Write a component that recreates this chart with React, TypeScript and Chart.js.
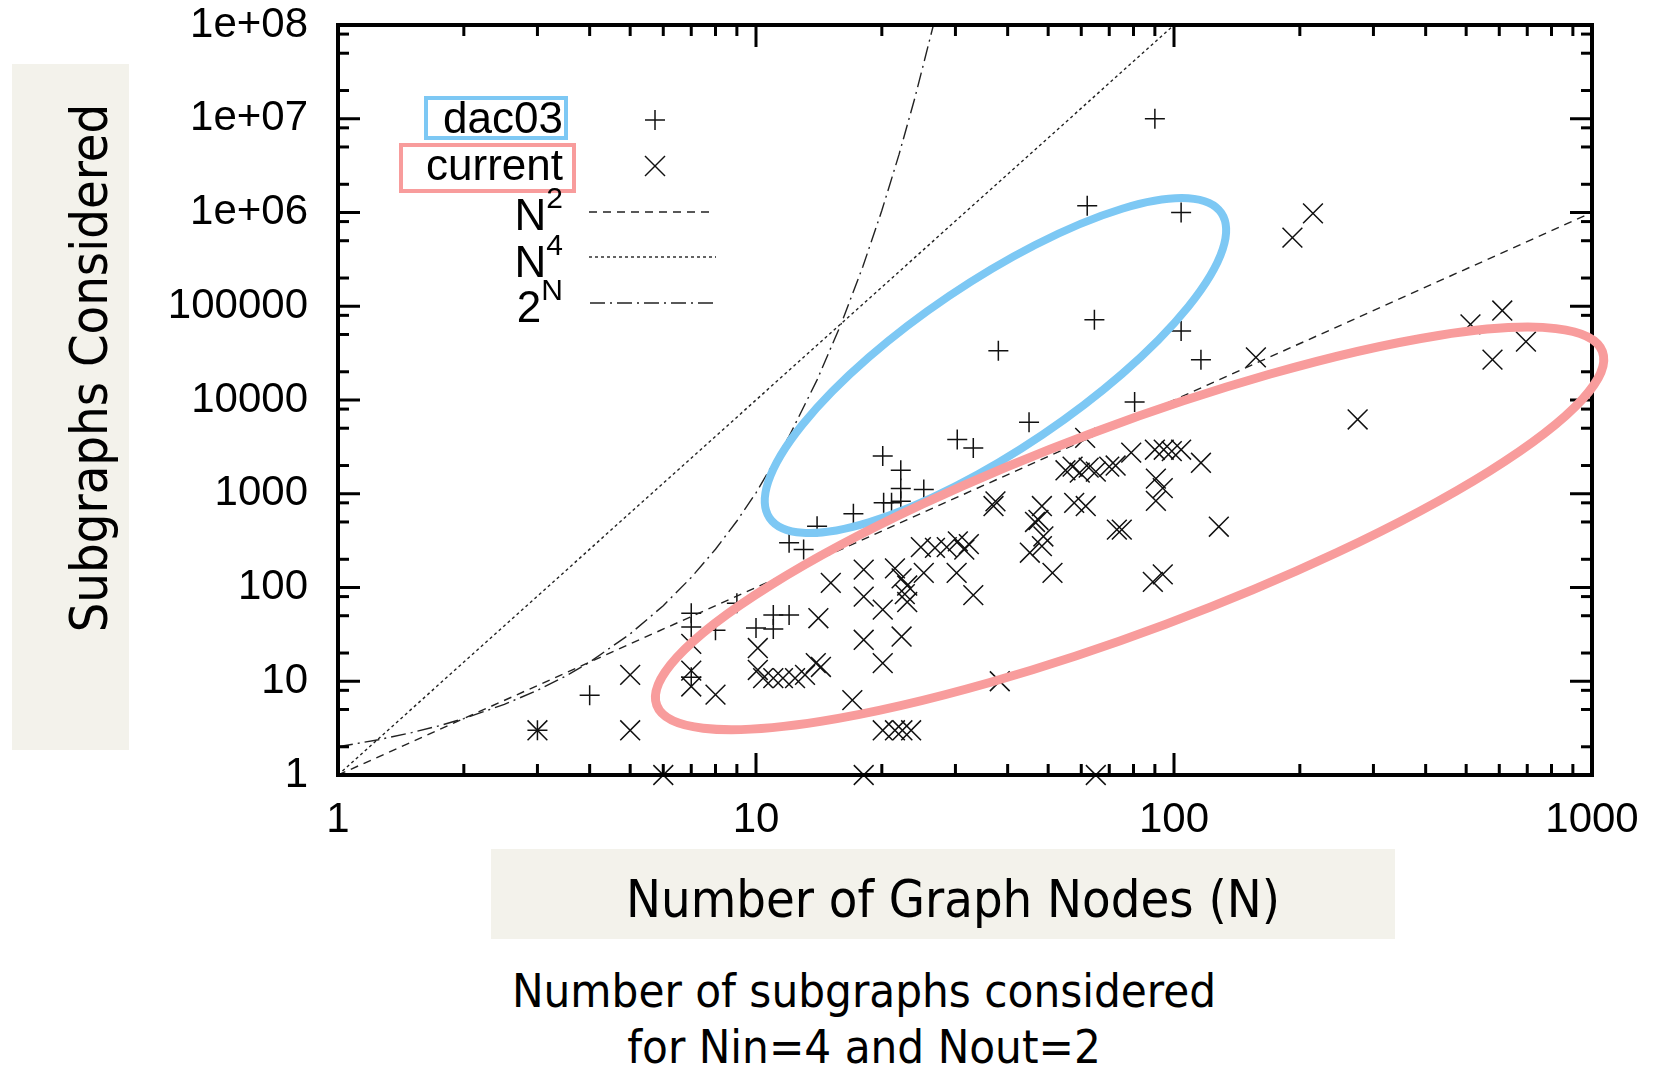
import React, { useEffect, useRef } from "react";
import { Chart, registerables } from "chart.js";

Chart.register(...registerables);

// ---------- axis ticks ----------
const xTickValues = [1, 10, 100, 1000];
const xTickLabels = ["1", "10", "100", "1000"];
const yTickValues = [1, 10, 100, 1000, 1e4, 1e5, 1e6, 1e7, 1e8];
const yTickLabels = ["1", "10", "100", "1000", "10000", "100000", "1e+06", "1e+07", "1e+08"];
const xMinorMultipliers = [2, 3, 4, 5, 6, 7, 8, 9];
const yMinorMultipliers = [2, 5, 8];

// ---------- series: dac03 (+) ----------
const dac03N = [3, 4, 7, 7, 7, 8, 9, 10, 11, 11, 12, 12, 13, 14, 17.1, 20.1, 20.2, 21.1, 22.2, 22.2, 22.2, 25.2, 30.3, 33.1, 45, 38, 62, 90, 104, 64.5, 104, 116, 80.5];
const dac03V = [3, 7.1, 53, 38, 11, 35, 68, 37, 36, 51, 51, 300, 254, 451, 612, 2520, 800, 800, 1780, 1140, 830, 1110, 3800, 3080, 5800, 33500, 1180000, 10000000, 1000000, 72000, 54500, 26800, 9500];

// ---------- series: current (x) ----------
const currentN = [3, 5, 5, 6, 7, 7, 7, 8, 10.1, 10.1, 10.4, 11.0, 11.6, 12.4, 13.1, 13.9, 14.3, 14.1, 15.1, 17, 18.1, 18.1, 18.1, 18.1, 20.1, 20.1, 20.1, 21.5, 22.4, 23.5, 21.5, 22.3, 23, 22.7, 23, 22.3, 24.8, 26.8, 28.6, 30.4, 32.3, 31.5, 25.2, 30.2, 33.1, 37, 37.4, 38.3, 48.3, 47.4, 46.5, 48.7, 48.3, 45.2, 51.2, 57.7, 61.5, 55, 57.2, 59.5, 62.5, 65, 70, 72.5, 61.3, 79, 90, 94.5, 98.8, 104, 116, 90.5, 94, 90.5, 73, 75, 128, 89, 94, 65, 157, 192, 215, 275, 512, 610, 578, 695];
const currentV = [3, 11.7, 3, 1, 25, 13, 8.8, 7.2, 22.6, 13.2, 10.8, 10.8, 10.8, 10.8, 11.7, 15.6, 14.2, 47, 112, 6.3, 155, 80, 27.7, 1, 58, 15.6, 3, 3, 3, 3, 160, 125, 105, 85, 70, 30, 270, 265, 270, 310, 290, 254, 143, 143, 83, 740, 830, 10, 740, 525, 500, 350, 276, 235, 143, 800, 740, 1780, 1950, 1680, 1900, 1720, 1950, 2000, 3950, 2750, 2950, 2950, 2850, 2950, 2140, 1450, 1150, 840, 415, 415, 445, 115, 138, 1, 28500, 540000, 980000, 6200, 64000, 90000, 27000, 42000];

// ---------- reference curves ----------
const squareN = [1, 1000];
const squareV = [1, 1000000];
const quarticN = [1, 100];
const quarticV = [1, 100000000];
const expN = [1, 1.25, 1.5, 1.75, 2, 2.5, 3, 3.5, 4, 5, 6, 7, 8, 9, 10, 12, 14, 16, 18, 20, 22, 24, 26.575];
const expV = [2, 2.38, 2.83, 3.36, 4, 5.66, 8, 11.3, 16, 32, 64, 128, 256, 512, 1024, 4096, 16384, 65536, 262144, 1048576, 4194304, 16777216, 100000000];

// ---------- highlight ellipses: [center, major-axis tip, minor-axis tip] ----------
const blueEllipseN = [37.4, 129.8, 48.4];
const blueEllipseV = [23300, 986000, 4250];
const redEllipseN = [78.3, 1059, 95.4];
const redEllipseV = [427, 32900, 40.4];

const BLUE = "#7dc8f4";
const RED = "#f89c9c";
const BEIGE = "#f3f2eb";
const LINE = "#222";
const TITLE_FONT = '"DejaVu Sans Condensed", "DejaVu Sans", sans-serif';
const LABEL_FONT = '"Liberation Sans", Arial, sans-serif';

const toPts = (xs: number[], ys: number[]) => xs.map((x, i) => ({ x, y: ys[i] }));

function drawEllipse(ctx: CanvasRenderingContext2D, xs: any, ys: any, en: number[], ev: number[], color: string, w: number) {
  const cx = xs.getPixelForValue(en[0]);
  const cy = ys.getPixelForValue(ev[0]);
  const mx = xs.getPixelForValue(en[1]);
  const my = ys.getPixelForValue(ev[1]);
  const nx = xs.getPixelForValue(en[2]);
  const ny = ys.getPixelForValue(ev[2]);
  const a = Math.hypot(mx - cx, my - cy);
  const b = Math.hypot(nx - cx, ny - cy);
  const ang = Math.atan2(my - cy, mx - cx);
  ctx.save();
  ctx.strokeStyle = color;
  ctx.lineWidth = w;
  ctx.beginPath();
  ctx.ellipse(cx, cy, a, b, ang, 0, Math.PI * 2);
  ctx.stroke();
  ctx.restore();
}

const gnuplotFrame = {
  id: "gnuplotFrame",
  afterDatasetsDraw(chart: any) {
    const { ctx, chartArea: a, scales } = chart;
    const xs = scales.x;
    const ys = scales.y;
    ctx.save();
    ctx.strokeStyle = "#000";
    ctx.lineCap = "butt";
    ctx.lineWidth = 3;
    const seg = (x1: number, y1: number, x2: number, y2: number) => {
      ctx.beginPath();
      ctx.moveTo(x1, y1);
      ctx.lineTo(x2, y2);
      ctx.stroke();
    };
    xTickValues.forEach((d) => {
      const p = xs.getPixelForValue(d);
      seg(p, a.bottom, p, a.bottom - 22);
      seg(p, a.top, p, a.top + 22);
      if (d < 1000) {
        xMinorMultipliers.forEach((m) => {
          const q = xs.getPixelForValue(d * m);
          seg(q, a.bottom, q, a.bottom - 11);
          seg(q, a.top, q, a.top + 11);
        });
      }
    });
    yTickValues.forEach((d) => {
      const p = ys.getPixelForValue(d);
      seg(a.left, p, a.left + 22, p);
      seg(a.right, p, a.right - 22, p);
      if (d < 1e8) {
        yMinorMultipliers.forEach((m) => {
          const q = ys.getPixelForValue(d * m);
          seg(a.left, q, a.left + 11, q);
          seg(a.right, q, a.right - 11, q);
        });
      }
    });
    ctx.lineWidth = 4;
    ctx.strokeRect(a.left, a.top, a.right - a.left, a.bottom - a.top);

    // legend glyphs
    ctx.lineWidth = 1.5;
    ctx.strokeStyle = "#111";
    const lx = 655;
    seg(lx - 10, 120, lx + 10, 120);
    seg(lx, 110, lx, 130);
    seg(lx - 10, 156, lx + 10, 176);
    seg(lx - 10, 176, lx + 10, 156);
    ctx.strokeStyle = LINE;
    ctx.lineWidth = 1.4;
    ctx.setLineDash([8, 6]);
    seg(589, 212, 712, 212);
    ctx.setLineDash([3, 3]);
    seg(589, 257, 716, 257);
    ctx.setLineDash([15, 5, 2, 5]);
    seg(590, 303, 714, 303);
    ctx.setLineDash([]);
    ctx.restore();

    drawEllipse(ctx, xs, ys, blueEllipseN, blueEllipseV, BLUE, 8);
    drawEllipse(ctx, xs, ys, redEllipseN, redEllipseV, RED, 9);
  },
};

export default function App() {
  const ref = useRef<HTMLCanvasElement>(null);

  useEffect(() => {
    const chart = new Chart(ref.current as HTMLCanvasElement, {
      type: "scatter",
      data: {
        datasets: [
          {
            label: "N^2",
            data: toPts(squareN, squareV),
            showLine: true,
            borderColor: LINE,
            borderWidth: 1.4,
            borderDash: [8, 6],
            pointRadius: 0,
            fill: false,
          },
          {
            label: "N^4",
            data: toPts(quarticN, quarticV),
            showLine: true,
            borderColor: LINE,
            borderWidth: 1.4,
            borderDash: [3, 3],
            pointRadius: 0,
            fill: false,
          },
          {
            label: "2^N",
            data: toPts(expN, expV),
            showLine: true,
            borderColor: LINE,
            borderWidth: 1.4,
            borderDash: [15, 5, 2, 5],
            pointRadius: 0,
            fill: false,
            tension: 0,
          },
          {
            label: "dac03",
            data: toPts(dac03N, dac03V),
            pointStyle: "cross",
            pointRadius: 10,
            borderColor: "#111",
            borderWidth: 1.5,
            clip: false as any,
          },
          {
            label: "current",
            data: toPts(currentN, currentV),
            pointStyle: "crossRot",
            pointRadius: 14,
            borderColor: "#111",
            borderWidth: 1.5,
            clip: false as any,
          },
        ],
      },
      options: {
        animation: false,
        responsive: false,
        devicePixelRatio: 1,
        layout: { padding: { left: 0, top: 25, right: 65, bottom: 0 } },
        plugins: { legend: { display: false }, tooltip: { enabled: false }, title: { display: false } },
        scales: {
          x: {
            type: "logarithmic",
            position: "bottom",
            min: 1,
            max: 1000,
            grid: { display: false, drawTicks: false },
            border: { display: false },
            afterFit: (s: any) => {
              s.height = 294;
              s.paddingLeft = 0;
              s.paddingRight = 0;
              s.paddingTop = 0;
              s.paddingBottom = 0;
            },
            afterBuildTicks: (s: any) => {
              s.ticks = xTickValues.map((v) => ({ value: v }));
            },
            ticks: {
              autoSkip: false,
              maxRotation: 0,
              padding: 20,
              color: "#000",
              font: { family: LABEL_FONT, size: 42, lineHeight: 1.2 },
              callback: (v: any) => {
                const i = xTickValues.indexOf(Number(v));
                return i >= 0 ? xTickLabels[i] : "";
              },
            },
          },
          y: {
            type: "logarithmic",
            position: "left",
            min: 1,
            max: 1e8,
            grid: { display: false, drawTicks: false },
            border: { display: false },
            afterFit: (s: any) => {
              s.width = 338;
              s.paddingLeft = 0;
              s.paddingRight = 0;
              s.paddingTop = 0;
              s.paddingBottom = 0;
            },
            afterBuildTicks: (s: any) => {
              s.ticks = yTickValues.map((v) => ({ value: v }));
            },
            ticks: {
              autoSkip: false,
              padding: 30,
              color: "#000",
              font: { family: LABEL_FONT, size: 42 },
              callback: (v: any) => {
                const i = yTickValues.indexOf(Number(v));
                return i >= 0 ? yTickLabels[i] : "";
              },
            },
          },
        },
      },
      plugins: [gnuplotFrame],
    });
    return () => chart.destroy();
  }, []);

  const legendRow = (top: number): React.CSSProperties => ({
    position: "absolute",
    left: 0,
    top,
    width: 563,
    textAlign: "right",
    font: `44px ${LABEL_FONT}`,
    lineHeight: "44px",
    whiteSpace: "nowrap",
    color: "#000",
  });
  const sup: React.CSSProperties = { fontSize: 30, position: "relative", top: -22 };

  return (
    <div style={{ position: "absolute", left: 0, top: 0, width: 1657, height: 1069, background: "#fff", overflow: "hidden" }}>
      {/* y-axis title */}
      <div style={{ position: "absolute", left: 12, top: 64, width: 117, height: 686, background: BEIGE }} />
      <div
        style={{
          position: "absolute",
          left: 89 - 350,
          top: 368 - 26,
          width: 700,
          height: 52,
          textAlign: "center",
          font: `52px ${TITLE_FONT}`,
          lineHeight: "52px",
          fontStretch: "condensed",
          transform: "rotate(-90deg)",
          whiteSpace: "nowrap",
          color: "#000",
        }}
      >
        Subgraphs Considered
      </div>
      {/* x-axis title */}
      <div style={{ position: "absolute", left: 491, top: 849, width: 904, height: 90, background: BEIGE }} />
      <div
        style={{
          position: "absolute",
          left: 953 - 500,
          top: 873,
          width: 1000,
          textAlign: "center",
          font: `52px ${TITLE_FONT}`,
          lineHeight: "52px",
          fontStretch: "condensed",
          whiteSpace: "nowrap",
          color: "#000",
        }}
      >
        Number of Graph Nodes (N)
      </div>
      {/* caption */}
      <div
        style={{
          position: "absolute",
          left: 864 - 500,
          top: 963,
          width: 1000,
          textAlign: "center",
          font: `47px ${TITLE_FONT}`,
          lineHeight: "56px",
          fontStretch: "condensed",
          whiteSpace: "nowrap",
          color: "#000",
        }}
      >
        Number of subgraphs considered
        <br />
        for Nin=4 and Nout=2
      </div>

      <canvas ref={ref} width={1657} height={1069} style={{ position: "absolute", left: 0, top: 0 }} />

      {/* legend */}
      <div style={{ position: "absolute", left: 424, top: 96, width: 144, height: 44, border: `4px solid ${BLUE}`, boxSizing: "border-box" }} />
      <div style={{ position: "absolute", left: 399, top: 143, width: 177, height: 50, border: `4px solid ${RED}`, boxSizing: "border-box" }} />
      <div style={legendRow(96)}>dac03</div>
      <div style={legendRow(143)}>current</div>
      <div style={legendRow(193)}>
        N<span style={sup}>2</span>
      </div>
      <div style={legendRow(240)}>
        N<span style={sup}>4</span>
      </div>
      <div style={legendRow(285)}>
        2<span style={sup}>N</span>
      </div>
    </div>
  );
}
